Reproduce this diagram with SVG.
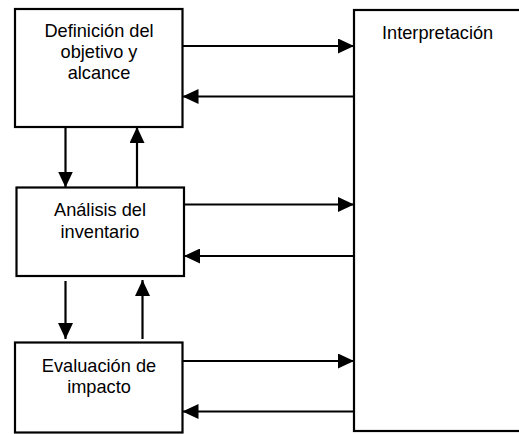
<svg xmlns="http://www.w3.org/2000/svg" width="519" height="434" viewBox="0 0 519 434">
<style>
.box{fill:#fff;stroke:#000;stroke-width:2.2}
.t{font-family:"Liberation Sans",Arial,sans-serif;font-size:18.2px;fill:#000}
.c{text-anchor:middle}
.ln{stroke:#000;stroke-width:2.2;fill:none}
</style>
<defs>
<marker id="ah" viewBox="0 0 16 15" refX="16" refY="7.5" markerWidth="16" markerHeight="15" markerUnits="userSpaceOnUse" orient="auto">
<path d="M0,0 L16,7.5 L0,15 Z" fill="#000"/>
</marker>
</defs>
<rect width="519" height="434" fill="#fff"/>
<g id="interp">
<rect class="box" x="354" y="10" width="175" height="421"/>
<text class="t" x="382" y="39">Interpretación</text>
</g>
<g id="def">
<rect class="box" x="15" y="9" width="167.5" height="118"/>
<text class="t c" x="99" y="37">Definición del</text>
<text class="t c" x="99" y="58">objetivo y</text>
<text class="t c" x="99" y="79">alcance</text>
</g>
<g id="ana">
<rect class="box" x="16.5" y="187.5" width="167.5" height="88.5"/>
<text class="t c" x="100" y="216">Análisis del</text>
<text class="t c" x="100" y="238">inventario</text>
</g>
<g id="eva">
<rect class="box" x="15" y="342.5" width="167.5" height="90"/>
<text class="t c" x="99" y="371.5">Evaluación de</text>
<text class="t c" x="99" y="393">impacto</text>
</g>
<g id="connectors">
<line class="ln" x1="182.5" y1="46" x2="354" y2="46" marker-end="url(#ah)"/>
<line class="ln" x1="354" y1="96.5" x2="182.5" y2="96.5" marker-end="url(#ah)"/>
<line class="ln" x1="184" y1="204.5" x2="354" y2="204.5" marker-end="url(#ah)"/>
<line class="ln" x1="354" y1="256" x2="184" y2="256" marker-end="url(#ah)"/>
<line class="ln" x1="182.5" y1="361" x2="354" y2="361" marker-end="url(#ah)"/>
<line class="ln" x1="354" y1="411.5" x2="182.5" y2="411.5" marker-end="url(#ah)"/>
<line class="ln" x1="65.5" y1="127" x2="65.5" y2="187.5" marker-end="url(#ah)"/>
<line class="ln" x1="137" y1="187.5" x2="137" y2="127" marker-end="url(#ah)"/>
<line class="ln" x1="65.5" y1="281" x2="65.5" y2="339" marker-end="url(#ah)"/>
<line class="ln" x1="142.5" y1="339" x2="142.5" y2="280" marker-end="url(#ah)"/>
</g>
</svg>
